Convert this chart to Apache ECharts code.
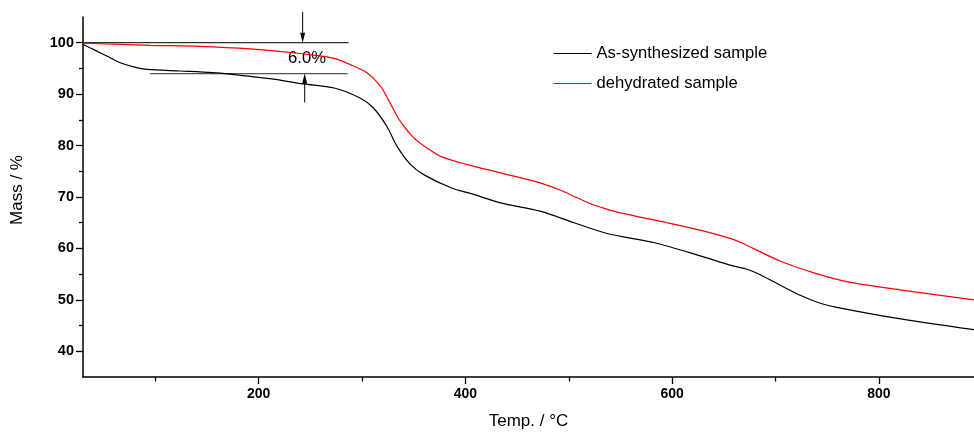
<!DOCTYPE html>
<html><head><meta charset="utf-8">
<script src="https://cdn.jsdelivr.net/npm/echarts@6/dist/echarts.min.js"></script>
<style>html,body{margin:0;padding:0;background:#fff}#c{width:974px;height:435px}</style>
</head><body><div id="c"></div>
<script>
const seriesNames = ['As-synthesized sample', 'dehydrated sample'];
const asTemp = [30, 40, 53, 66, 79, 92, 124, 155, 172, 211, 243, 273, 298, 311, 324, 334, 347, 360, 386, 408, 434, 473, 505, 537, 583, 628, 657, 673, 686, 705, 725, 744, 763, 815, 892];
const asMass = [99.65, 98.7, 97.4, 96.1, 95.3, 94.8, 94.5, 94.2, 93.9, 93.0, 92.0, 91.2, 89.25, 87.3, 83.7, 79.8, 76.3, 74.3, 71.8, 70.5, 68.85, 67.2, 65.0, 62.9, 61.1, 58.5, 56.7, 55.9, 54.8, 52.8, 50.8, 49.3, 48.4, 46.5, 44.2];
const dehTemp = [30, 95, 143, 192, 231, 240, 272, 289, 305, 318, 327, 337, 350, 363, 376, 402, 434, 473, 492, 507, 521, 536, 550, 595, 628, 657, 667, 705, 738, 770, 822, 892];
const dehMass = [99.9, 99.5, 99.3, 98.8, 98.1, 97.9, 97.0, 95.7, 94.1, 91.5, 88.3, 84.7, 81.5, 79.5, 77.9, 76.3, 74.7, 72.7, 71.3, 69.95, 68.7, 67.7, 66.9, 65.0, 63.5, 61.9, 61.1, 57.5, 55.2, 53.5, 51.9, 50.0];
const xMajorTicks = [200, 400, 600, 800];
const xMinorTicks = [100, 300, 500, 700];
const yMajorTicks = [40, 50, 60, 70, 80, 90, 100];
const yMinorTicks = [45, 55, 65, 75, 85, 95];
const stepLevels = [100, 94];
const stepLabel = '6.0%';

const FONT = "'Liberation Sans', Arial, sans-serif";
const chart = echarts.init(document.getElementById('c'), null, {renderer: 'canvas'});
const zip = (a, b) => a.map((v, i) => [v, b[i]]);

const axisLineStyle = {show: true, lineStyle: {color: '#000', width: 1.5}};
chart.setOption({
  animation: false,
  backgroundColor: '#fff',
  grid: {left: 83, right: 0, top: 17, bottom: 57},
  legend: {
    orient: 'vertical', left: 553, top: 45, padding: 0,
    itemWidth: 38, itemHeight: 16, itemGap: 13,
    itemStyle: {opacity: 0},
    lineStyle: {width: 1},
    textStyle: {fontFamily: FONT, fontSize: 16.6, color: '#000'},
    data: seriesNames
  },
  xAxis: [{
    type: 'value', min: 30, max: 892, position: 'bottom',
    name: 'Temp. / °C', nameLocation: 'middle', nameGap: 36,
    nameTextStyle: {fontFamily: FONT, fontSize: 17, color: '#000'},
    axisLine: axisLineStyle,
    axisTick: {show: true, length: 7, customValues: xMajorTicks, lineStyle: {color: '#000', width: 1.3}},
    axisLabel: {customValues: xMajorTicks, margin: 10, fontFamily: FONT, fontSize: 14, fontWeight: 'bold', color: '#000'},
    splitLine: {show: false}
  }, {
    type: 'value', min: 30, max: 892, position: 'bottom',
    axisLine: {show: false},
    axisTick: {show: true, length: 4.5, customValues: xMinorTicks, lineStyle: {color: '#000', width: 1.3}},
    axisLabel: {show: false}, splitLine: {show: false}
  }],
  yAxis: [{
    type: 'value', min: 35, max: 105, position: 'left',
    name: 'Mass / %', nameLocation: 'middle', nameGap: 57,
    nameTextStyle: {fontFamily: FONT, fontSize: 17, color: '#000', padding: [0, 0, 0, 14]},
    axisLine: axisLineStyle,
    axisTick: {show: true, length: 7, customValues: yMajorTicks, lineStyle: {color: '#000', width: 1.3}},
    axisLabel: {customValues: yMajorTicks, margin: 9, fontFamily: FONT, fontSize: 14.5, fontWeight: 'bold', color: '#000'},
    splitLine: {show: false}
  }, {
    type: 'value', min: 35, max: 105, position: 'left',
    axisLine: {show: false},
    axisTick: {show: true, length: 4, customValues: yMinorTicks, lineStyle: {color: '#000', width: 1.3}},
    axisLabel: {show: false}, splitLine: {show: false}
  }],
  series: [{
    name: seriesNames[0], type: 'line', data: zip(asTemp, asMass),
    xAxisIndex: 0, yAxisIndex: 0, symbol: 'none', smooth: 0.3, clip: false,
    lineStyle: {color: '#000', width: 1.2}, itemStyle: {color: '#000'}
  }, {
    name: seriesNames[1], type: 'line', data: zip(dehTemp, dehMass),
    xAxisIndex: 0, yAxisIndex: 0, symbol: 'none', smooth: 0.3, clip: false,
    lineStyle: {color: '#ff0000', width: 1.2}, itemStyle: {color: '#ff0000'}
  }]
});

// annotation: mass-loss step between the two levels
const px = (x, y) => chart.convertToPixel({gridIndex: 0}, [x, y]);
const pTopL = px(30, stepLevels[0]), pTopR = px(287, stepLevels[0]);
const pLowL = px(95, stepLevels[1]), pLowR = px(286, stepLevels[1]);
const aTopS = px(242.5, 106), aTopE = px(242.5, stepLevels[0]);
const aLowS = px(244.5, 88.4), aLowE = px(244.5, stepLevels[1]);
const pLab = px(246.7, 96.9);
const head = (tip, dir) => ({
  type: 'polygon', silent: true,
  shape: {points: [[tip[0], tip[1]], [tip[0] - 2.5, tip[1] - dir * 10], [tip[0] + 2.5, tip[1] - dir * 10]]},
  style: {fill: '#000'}
});
chart.setOption({
  graphic: [
    {type: 'line', silent: true, shape: {x1: pTopL[0], y1: pTopL[1], x2: pTopR[0], y2: pTopR[1]}, style: {stroke: '#333', lineWidth: 1.2}},
    {type: 'line', silent: true, shape: {x1: pLowL[0], y1: pLowL[1], x2: pLowR[0], y2: pLowR[1]}, style: {stroke: '#555', lineWidth: 1.2}},
    {type: 'line', silent: true, shape: {x1: aTopS[0], y1: aTopS[1], x2: aTopE[0], y2: aTopE[1] - 6}, style: {stroke: '#000', lineWidth: 1}},
    head(aTopE, 1),
    {type: 'line', silent: true, shape: {x1: aLowS[0], y1: aLowS[1], x2: aLowE[0], y2: aLowE[1] + 6}, style: {stroke: '#000', lineWidth: 1}},
    head(aLowE, -1),
    {type: 'text', silent: true, x: pLab[0], y: pLab[1],
     style: {text: stepLabel, fontFamily: FONT, fontSize: 16.6, fill: '#000', align: 'center', verticalAlign: 'middle'}}
  ]
});
</script></body></html>
